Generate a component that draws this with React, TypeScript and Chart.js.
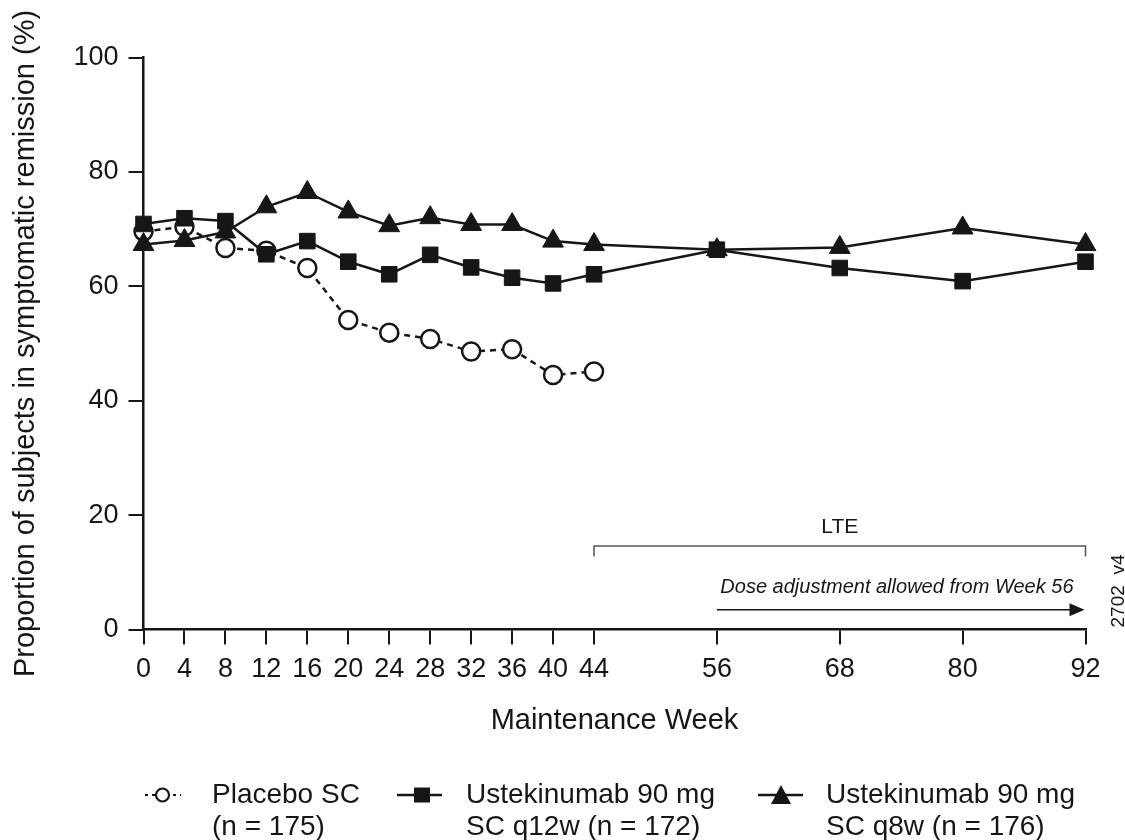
import React, { useEffect, useRef } from "react";
import { Chart, registerables } from "chart.js";

Chart.register(...registerables);

// ---- Data ----
const weeksTreatment = [0, 4, 8, 12, 16, 20, 24, 28, 32, 36, 40, 44, 56, 68, 80, 92];
const weeksPlacebo = [0, 4, 8, 12, 16, 20, 24, 28, 32, 36, 40, 44];
const placeboValues = [69.6, 70.4, 66.7, 66.2, 63.2, 54.1, 51.9, 50.8, 48.6, 49.0, 44.5, 45.1];
const q12wValues = [70.9, 71.9, 71.4, 65.6, 67.9, 64.3, 62.1, 65.5, 63.3, 61.5, 60.5, 62.1, 66.4, 63.2, 60.9, 64.3];
const q8wValues = [67.3, 68.0, 69.5, 73.9, 76.4, 73.0, 70.6, 72.0, 70.8, 70.8, 67.9, 67.3, 66.4, 66.8, 70.2, 67.3];
const xTickValues = [0, 4, 8, 12, 16, 20, 24, 28, 32, 36, 40, 44, 56, 68, 80, 92];
const yTickValues = [0, 20, 40, 60, 80, 100];
const legendLines = [
  ["Placebo SC", "(n = 175)"],
  ["Ustekinumab 90 mg", "SC q12w (n = 172)"],
  ["Ustekinumab 90 mg", "SC q8w (n = 176)"],
];
const xTitle = "Maintenance Week";
const yTitle = "Proportion of subjects in symptomatic remission (%)";
const lteLabel = "LTE";
const doseLabel = "Dose adjustment allowed from Week 56";
const figureId = "2702_v4";
const lteStartWeek = 44;
const lteEndWeek = 92;
const doseStartWeek = 56;

const FONT = "'Liberation Sans', Arial, Helvetica, sans-serif";
const INK = "#161616";

function toPoints(xs: number[], ys: number[]) {
  return xs.map((x, i) => ({ x, y: ys[i] }));
}

const annotationPlugin = {
  id: "annotations",
  afterDraw(chart: any) {
    const { ctx } = chart;
    const x = chart.scales.x;
    const y = chart.scales.y;
    ctx.save();

    // LTE bracket
    const x1 = x.getPixelForValue(lteStartWeek);
    const x2 = x.getPixelForValue(lteEndWeek);
    const yb = y.getPixelForValue(14.6);
    ctx.strokeStyle = "#555";
    ctx.lineWidth = 1.5;
    ctx.beginPath();
    ctx.moveTo(x1, yb + 10.5);
    ctx.lineTo(x1, yb);
    ctx.lineTo(x2, yb);
    ctx.lineTo(x2, yb + 10.5);
    ctx.stroke();

    ctx.fillStyle = INK;
    ctx.font = `21px ${FONT}`;
    ctx.textAlign = "center";
    ctx.textBaseline = "alphabetic";
    ctx.fillText(lteLabel, (x1 + x2) / 2, y.getPixelForValue(16.9));

    // Dose adjustment text
    ctx.font = `italic 20px ${FONT}`;
    ctx.textAlign = "right";
    ctx.fillText(doseLabel, x2 - 12, y.getPixelForValue(6.4));

    // Arrow
    const xa = x.getPixelForValue(doseStartWeek);
    const ya = y.getPixelForValue(3.46);
    ctx.strokeStyle = INK;
    ctx.lineWidth = 1.5;
    ctx.beginPath();
    ctx.moveTo(xa, ya);
    ctx.lineTo(x2 - 12, ya);
    ctx.stroke();
    ctx.beginPath();
    ctx.moveTo(x2 - 1, ya);
    ctx.lineTo(x2 - 16, ya - 6.5);
    ctx.lineTo(x2 - 16, ya + 6.5);
    ctx.closePath();
    ctx.fill();

    // Figure id (rotated)
    ctx.save();
    ctx.translate(1124, 591);
    ctx.rotate(-Math.PI / 2);
    ctx.font = `19px ${FONT}`;
    ctx.textAlign = "center";
    ctx.textBaseline = "alphabetic";
    ctx.fillText(figureId, 0, 0);
    ctx.restore();

    // Legend
    const ly = 795;
    // Placebo: dotted line + open circle
    ctx.strokeStyle = INK;
    ctx.lineWidth = 2;
    ctx.setLineDash([3, 4]);
    ctx.beginPath();
    ctx.moveTo(145, ly);
    ctx.lineTo(181, ly);
    ctx.stroke();
    ctx.setLineDash([]);
    ctx.beginPath();
    ctx.arc(162.5, ly, 6.5, 0, Math.PI * 2);
    ctx.fillStyle = "#fff";
    ctx.fill();
    ctx.lineWidth = 2.2;
    ctx.stroke();

    // q12w: line + square
    ctx.lineWidth = 2.5;
    ctx.beginPath();
    ctx.moveTo(397, ly);
    ctx.lineTo(442, ly);
    ctx.stroke();
    ctx.fillStyle = INK;
    ctx.fillRect(414, ly - 7.5, 16, 15);

    // q8w: line + triangle
    ctx.beginPath();
    ctx.moveTo(758, ly);
    ctx.lineTo(803, ly);
    ctx.stroke();
    ctx.beginPath();
    ctx.moveTo(781, ly - 10);
    ctx.lineTo(791, ly + 9);
    ctx.lineTo(771, ly + 9);
    ctx.closePath();
    ctx.fill();

    ctx.font = `28px ${FONT}`;
    ctx.textAlign = "left";
    ctx.textBaseline = "alphabetic";
    const textX = [212, 466, 826];
    legendLines.forEach((lines, i) => {
      lines.forEach((t, j) => {
        ctx.fillText(t, textX[i], 803 + j * 32);
      });
    });

    ctx.restore();
  },
};

export default function App() {
  const canvasRef = useRef<HTMLCanvasElement | null>(null);

  useEffect(() => {
    const canvas = canvasRef.current;
    if (!canvas) return;
    const chart = new Chart(canvas, {
      type: "line",
      data: {
        datasets: [
          {
            label: legendLines[0].join(" "),
            data: toPoints(weeksPlacebo, placeboValues),
            borderColor: INK,
            borderWidth: 2.5,
            borderDash: [6, 5],
            pointStyle: "circle",
            pointRadius: 9,
            pointBorderWidth: 2.5,
            pointBackgroundColor: "#fff",
            pointBorderColor: INK,
            tension: 0,
            clip: false,
            order: 2,
          },
          {
            label: legendLines[2].join(" "),
            data: toPoints(weeksTreatment, q8wValues),
            borderColor: INK,
            borderWidth: 2.5,
            pointStyle: "triangle",
            pointRadius: 12,
            pointBorderWidth: 1,
            pointBackgroundColor: INK,
            pointBorderColor: INK,
            tension: 0,
            clip: false,
            order: 1,
          },
          {
            label: legendLines[1].join(" "),
            data: toPoints(weeksTreatment, q12wValues),
            borderColor: INK,
            borderWidth: 2.5,
            pointStyle: "rect",
            pointRadius: 11,
            pointBorderWidth: 1,
            pointBackgroundColor: INK,
            pointBorderColor: INK,
            tension: 0,
            clip: false,
            order: 0,
          },
        ],
      },
      options: {
        responsive: false,
        animation: false,
        devicePixelRatio: 1,
        layout: { padding: { left: 0, right: 39.5, top: 57.5, bottom: 100.5 } },
        plugins: {
          legend: { display: false },
          tooltip: { enabled: false },
        },
        scales: {
          x: {
            type: "linear",
            min: 0,
            max: 92,
            afterBuildTicks: (scale: any) => {
              scale.ticks = xTickValues.map((v) => ({ value: v }));
            },
            afterFit: (scale: any) => {
              scale.height = 110;
            },
            ticks: {
              color: INK,
              font: { family: FONT, size: 27 },
              padding: 9,
              maxRotation: 0,
              autoSkip: false,
            },
            grid: {
              display: true,
              drawOnChartArea: false,
              drawTicks: true,
              tickLength: 15,
              color: INK,
              lineWidth: 2,
            },
            border: { display: true, color: INK, width: 2.5 },
            title: {
              display: true,
              text: xTitle,
              color: INK,
              font: { family: FONT, size: 29 },
              padding: { top: 0, bottom: 1 },
            },
          },
          y: {
            type: "linear",
            min: 0,
            max: 100,
            afterBuildTicks: (scale: any) => {
              scale.ticks = yTickValues.map((v) => ({ value: v }));
            },
            afterFit: (scale: any) => {
              scale.width = 143.5;
            },
            ticks: {
              color: INK,
              font: { family: FONT, size: 27 },
              padding: 10,
            },
            grid: {
              display: true,
              drawOnChartArea: false,
              drawTicks: true,
              tickLength: 15,
              color: INK,
              lineWidth: 2,
            },
            border: { display: true, color: INK, width: 2.5 },
            title: {
              display: true,
              text: yTitle,
              color: INK,
              font: { family: FONT, size: 29 },
              padding: { top: 9, bottom: 0 },
            },
          },
        },
      },
      plugins: [annotationPlugin],
    } as any);
    return () => chart.destroy();
  }, []);

  return (
    <div style={{ position: "absolute", left: 0, top: 0, width: 1125, height: 840, background: "#fff" }}>
      <canvas ref={canvasRef} width={1125} height={840} style={{ display: "block" }} />
    </div>
  );
}
